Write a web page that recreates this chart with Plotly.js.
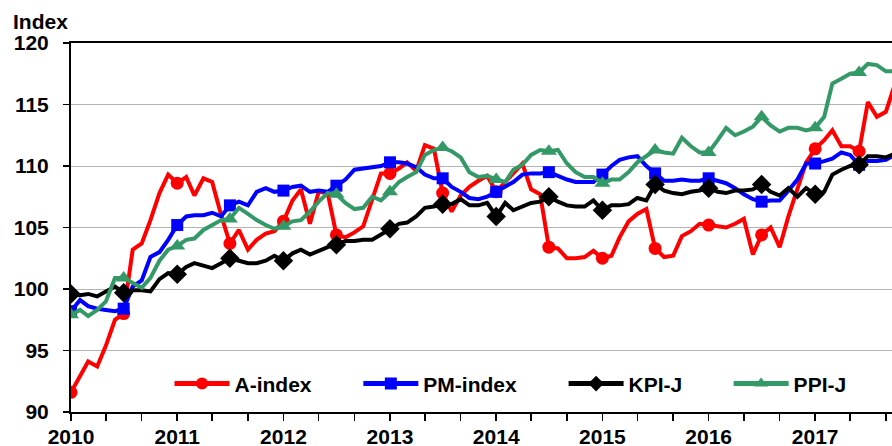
<!DOCTYPE html>
<html>
<head>
<meta charset="utf-8">
<script src="https://cdn.plot.ly/plotly-3.0.1.min.js"></script>
<style>
html,body{margin:0;padding:0;background:#fff;}
#chart{width:892px;height:446px;}
</style>
</head>
<body>
<div id="chart"></div>
<script>
// Monthly series, Jan 2010 onward
const startYear = 2010;
const seriesNames = ["A-index", "PM-index", "KPI-J", "PPI-J"];
const aIndex = [91.6, 92.9, 94.1, 93.7, 95.4, 97.5, 98.0, 103.2, 103.7, 105.6,
  107.8, 109.3, 108.6, 109.1, 107.6, 109.0, 108.7, 106.0, 103.7, 104.8,
  103.2, 104.0, 104.5, 104.7, 105.5, 107.2, 108.1, 105.3, 107.9, 107.8,
  104.4, 104.2, 104.6, 105.1, 107.4, 109.4, 109.4, 109.8, 110.3, 109.6,
  111.7, 111.4, 107.8, 106.3, 107.6, 108.3, 108.8, 109.2, 107.9, 108.7,
  109.5, 110.2, 108.1, 107.7, 103.4, 103.3, 102.5, 102.5, 102.6, 103.1,
  102.5, 102.7, 104.2, 105.5, 106.1, 106.5, 103.3, 102.6, 102.7, 104.3,
  104.7, 105.3, 105.2, 105.1, 105.0, 105.3, 105.7, 102.8, 104.4, 105.0,
  103.4, 105.9, 108.1, 110.3, 111.4, 112.1, 112.9, 111.6, 111.6, 111.2,
  115.2, 114.0, 114.4, 116.6];
const pmIndex = [98.2, 99.1, 98.6, 98.4, 98.3, 98.2, 98.4, 100.2, 100.7, 102.6,
  103.0, 104.0, 105.2, 105.9, 106.0, 106.0, 106.2, 105.9, 106.8, 107.1,
  106.8, 107.9, 108.2, 107.9, 108.0, 108.3, 108.4, 107.9, 108.0, 107.9,
  108.4, 108.9, 109.7, 109.8, 109.9, 110.0, 110.3, 110.3, 110.2, 109.9,
  109.3, 109.0, 109.0, 108.3, 107.9, 107.4, 107.3, 107.5, 107.9, 108.3,
  108.7, 109.3, 109.4, 109.4, 109.5, 109.2, 108.9, 108.7, 108.7, 108.7,
  109.3, 110.0, 110.5, 110.7, 110.8, 110.0, 109.4, 108.8, 108.8, 108.9,
  108.8, 108.8, 109.0, 108.8, 108.6, 108.2, 107.7, 107.3, 107.1, 107.2,
  107.2, 108.0, 108.9, 110.2, 110.2, 110.4, 110.6, 111.1, 110.9, 110.1,
  110.4, 110.4, 110.5, 110.9];
const kpiJ = [99.6, 99.5, 99.6, 99.4, 99.8, 100.2, 99.7, 99.9, 99.9, 99.8,
  100.8, 101.3, 101.2, 101.8, 102.1, 101.9, 101.7, 102.1, 102.5, 102.3,
  102.1, 102.1, 102.3, 102.7, 102.3, 102.9, 103.2, 102.8, 103.1, 103.4,
  103.6, 103.9, 103.9, 104.0, 104.0, 104.4, 104.9, 105.3, 105.4, 105.9,
  106.6, 106.7, 106.9, 106.9, 107.3, 106.8, 106.8, 107.0, 105.9, 107.0,
  106.4, 106.7, 107.0, 107.1, 107.5, 107.1, 106.8, 106.7, 106.7, 107.2,
  106.4, 106.8, 106.8, 106.9, 107.4, 107.2, 108.5, 108.0, 107.8, 107.7,
  107.9, 108.0, 108.2, 107.9, 107.8, 108.0, 108.0, 108.1, 108.5, 107.9,
  107.6, 108.2, 107.5, 108.2, 107.7, 107.9, 109.3, 109.7, 110.0, 110.1,
  110.8, 110.8, 110.7, 111.0];
const ppiJ = [97.9, 98.3, 97.8, 98.3, 99.0, 100.9, 100.9, 100.5, 100.1, 100.9,
  102.3, 103.2, 103.5, 104.0, 104.1, 104.8, 105.2, 105.6, 105.7, 106.6,
  106.1, 105.6, 105.2, 104.9, 105.1, 105.5, 105.6, 106.3, 107.1, 107.8,
  107.7, 107.0, 106.5, 106.6, 107.5, 107.2, 107.9, 108.7, 109.1, 109.5,
  110.9, 111.3, 111.5, 111.2, 110.7, 109.5, 109.1, 109.2, 108.9, 108.7,
  109.7, 110.1, 110.9, 111.3, 111.2, 111.3, 110.2, 109.5, 109.1, 109.1,
  108.6, 108.9, 108.9, 109.5, 110.3, 110.8, 111.3, 111.1, 111.0, 112.3,
  111.6, 111.1, 111.1, 112.1, 113.1, 112.5, 112.8, 113.2, 114.0, 113.3,
  112.8, 113.1, 113.1, 112.9, 113.1, 114.0, 116.7, 117.1, 117.5, 117.6,
  118.3, 118.2, 117.7, 117.7];
// month indices (from Jan 2010) that carry a marker
const markerIdx = [0, 6, 12, 18, 24, 30, 36, 42, 48, 54, 60, 66, 72, 78, 84, 89];
const yTicks = [90, 95, 100, 105, 110, 115, 120];

function monthDate(i) {
  const y = startYear + Math.floor(i / 12);
  const m = (i % 12) + 1;
  return y + "-" + (m < 10 ? "0" + m : m) + "-01";
}
const dates = aIndex.map((_, i) => monthDate(i));
const isMarker = aIndex.map((_, i) => markerIdx.indexOf(i) >= 0);

const styles = [
  {color: "#ff0000", symbol: "circle", size: 13, legendX: 0.120},
  {color: "#0000ff", symbol: "square", size: 12, legendX: 0.350},
  {color: "#000000", symbol: "diamond", size: 15, legendX: 0.600},
  {color: "#339966", symbol: "triangle-up", size: 14, legendX: 0.801}
];
const values = [aIndex, pmIndex, kpiJ, ppiJ];
const legendIds = ["legend", "legend2", "legend3", "legend4"];

const traces = values.map((v, k) => ({
  x: dates, y: v, name: seriesNames[k], type: "scatter", mode: "lines+markers",
  legend: legendIds[k],
  line: {color: styles[k].color, width: 4},
  marker: {symbol: styles[k].symbol, color: styles[k].color, opacity: 1,
           size: isMarker.map(b => b ? styles[k].size : 0), line: {width: 0}},
  hoverinfo: "skip"
}));

const font = {family: "Arial, 'Liberation Sans', sans-serif", size: 21, color: "#000", weight: "bold"};

const layout = {
  width: 892, height: 446,
  margin: {l: 71, r: 0, t: 43, b: 34},
  paper_bgcolor: "#fff", plot_bgcolor: "#fff",
  font: font,
  showlegend: true,
  xaxis: {
    type: "date",
    range: ["2010-01-01", "2017-09-22"],
    tick0: "2010-01-01", dtick: "M12", tickformat: "%Y",
    ticks: "outside", ticklen: 7, tickwidth: 1.5, tickcolor: "#000",
    minor: {dtick: "M4", tick0: "2010-01-01", ticks: "outside", ticklen: 7, tickwidth: 1.5, tickcolor: "#000", showgrid: false},
    showline: true, linecolor: "#000", linewidth: 2, mirror: true,
    showgrid: false, zeroline: false, fixedrange: true,
    ticklabelstandoff: -2,
    tickfont: font
  },
  yaxis: {
    range: [90, 120], tickvals: yTicks, ticktext: yTicks.map(String),
    ticks: "outside", ticklen: 6, tickwidth: 1.5, tickcolor: "#000",
    showline: true, linecolor: "#000", linewidth: 2,
    showgrid: true, gridcolor: "#b4b4b4", gridwidth: 1,
    zeroline: false, fixedrange: true, ticklabelstandoff: 10,
    tickfont: font
  },
  annotations: [{
    text: "Index", xref: "paper", yref: "paper", x: 0, y: 1,
    xanchor: "left", yanchor: "bottom", xshift: -60, yshift: 8,
    showarrow: false, font: font
  }]
};
legendIds.forEach((id, k) => {
  layout[id] = {
    orientation: "h", x: styles[k].legendX, xanchor: "left", y: 0.076, yanchor: "middle",
    bgcolor: "rgba(0,0,0,0)", font: font, itemsizing: "constant", itemwidth: 55
  };
});

Plotly.newPlot("chart", traces, layout, {displayModeBar: false, staticPlot: true});
</script>
</body>
</html>
